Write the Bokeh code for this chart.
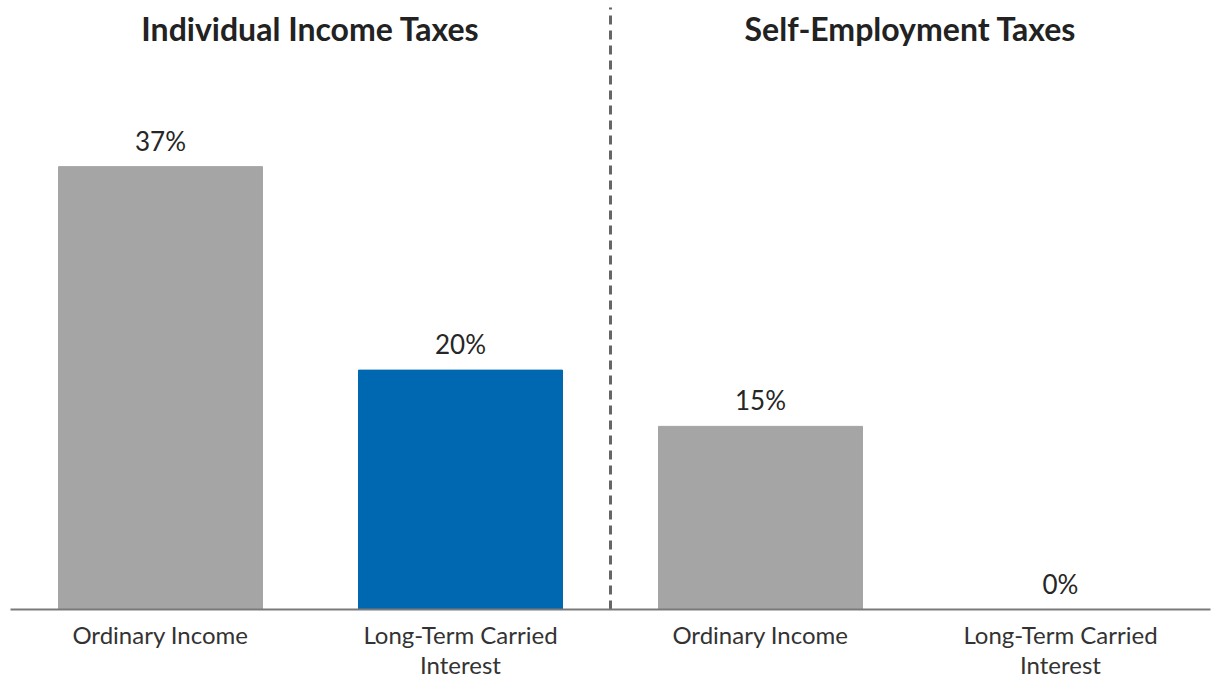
from bokeh.plotting import figure
from bokeh.models import ColumnDataSource, FixedTicker, Label
from bokeh.core.properties import value
from bokeh.embed import file_html
from bokeh.resources import INLINE

# data
categories = ["Ordinary Income", "Long-Term Carried\nInterest", "Ordinary Income", "Long-Term Carried\nInterest"]
rates = [37, 20, 15.3, 0]
rate_labels = ["37%", "20%", "15%", "0%"]
bar_colors = ["#a5a5a5", "#0067b1", "#a5a5a5", "#a5a5a5"]
group_titles = ["Individual Income Taxes", "Self-Employment Taxes"]
divider_x = [2.0]

xs = [i + 0.5 for i in range(len(categories))]
src = ColumnDataSource(dict(x=xs, top=rates, lab=rate_labels, color=bar_colors))

p = figure(width=1220, height=696, output_backend="svg", toolbar_location=None,
           x_range=(0, 4), y_range=(0, 50.88),
           min_border_left=10, min_border_right=10, min_border_top=0, min_border_bottom=87)
p.outline_line_color = None
p.grid.visible = False
p.yaxis.visible = False

p.vbar(x="x", top="top", width=0.68, color="color", source=src)
p.text(x="x", y="top", text="lab", source=src, text_align="center", text_baseline="middle",
       y_offset=-26, text_font=value("Lato"), text_font_size="26px", text_color="#262626")

xa = p.xaxis[0]
xa.ticker = FixedTicker(ticks=xs)
xa.major_label_overrides = {x: c for x, c in zip(xs, categories)}
xa.major_tick_line_color = None
xa.minor_tick_line_color = None
xa.axis_line_color = "#7a7a7a"
xa.axis_line_width = 2
xa.major_label_text_font = "Lato"
xa.major_label_text_font_size = "24px"
xa.major_label_text_color = "#333333"
xa.major_label_text_line_height = 1.05
xa.major_label_standoff = 4

p.segment(x0=divider_x, y0=[0], x1=divider_x, y1=[50.3], line_color="#666666", line_width=3,
          line_dash="9 6")

for i, t in enumerate(group_titles):
    p.add_layout(Label(x=1.0 + 2 * i, y=48.5, text=t, text_align="center", text_baseline="middle",
                       text_font="Lato", text_font_style="bold", text_font_size="32px",
                       text_color="#222222"))

open("out.html", "w").write(file_html(p, INLINE))
